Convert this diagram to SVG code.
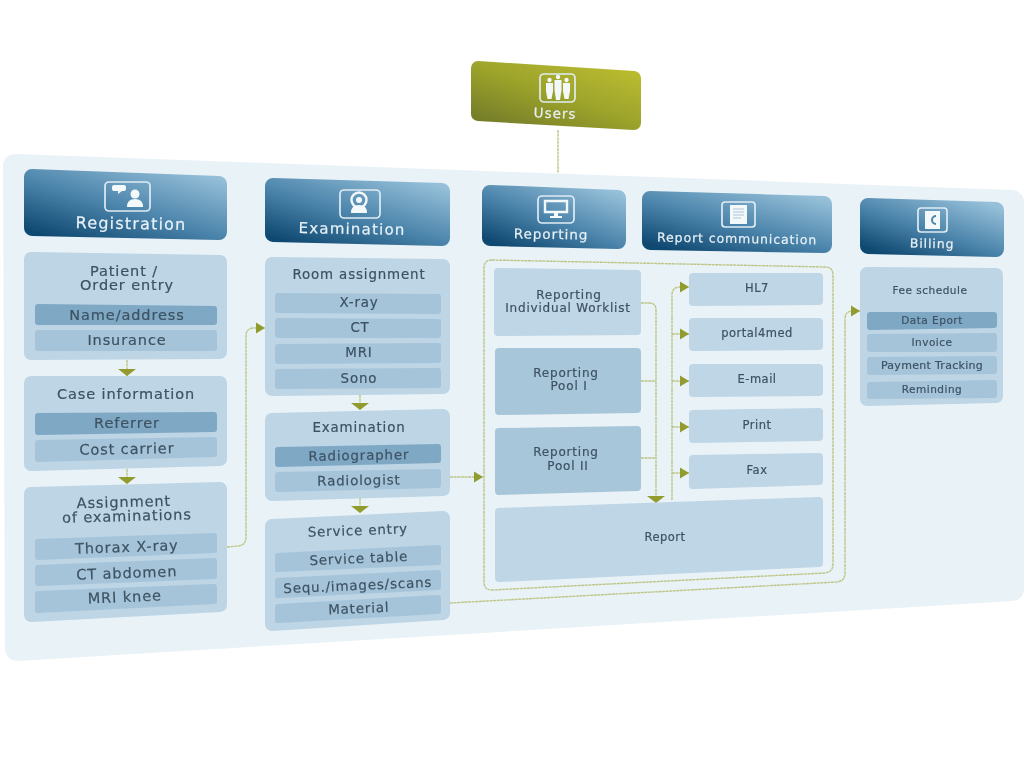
<svg xmlns="http://www.w3.org/2000/svg" width="1024" height="777" viewBox="0 0 1024 777">
<defs>
<linearGradient id="gh" x1="0" y1="1" x2="1" y2="0"><stop offset="0" stop-color="#0f4870"/><stop offset="0.45" stop-color="#4a83aa"/><stop offset="1" stop-color="#96c0d9"/></linearGradient>
<linearGradient id="gu" x1="0" y1="1" x2="1" y2="0"><stop offset="0" stop-color="#727a28"/><stop offset="0.5" stop-color="#9ca32c"/><stop offset="1" stop-color="#bcbd2f"/></linearGradient>
<filter id="soft" x="-2%" y="-2%" width="104%" height="104%"><feGaussianBlur stdDeviation="0.55"/></filter>
<marker id="ar" markerUnits="userSpaceOnUse" markerWidth="10" markerHeight="12" refX="9" refY="6" orient="auto"><path d="M0 0.5L9 6L0 11.500Z" fill="#929c2f"/></marker>
<marker id="ad" markerUnits="userSpaceOnUse" markerWidth="8" markerHeight="20" refX="7" refY="10" orient="auto"><path d="M0 1L7 10L0 19Z" fill="#929c2f"/></marker>
</defs>
<style>
text{font-family:"DejaVu Sans","Liberation Sans",sans-serif;text-anchor:middle;fill:#3d5262;stroke:#3d5262;stroke-width:.2}
polygon{stroke-linejoin:round}
.panel{fill:#e9f2f7;stroke:#e9f2f7;stroke-width:24}
.h{fill:url(#gh);stroke:url(#gh);stroke-width:16}
.u{fill:url(#gu);stroke:url(#gu);stroke-width:14}
.b{fill:#bdd5e5;stroke:#bdd5e5;stroke-width:14}
.i{fill:#a5c4da;stroke:#a5c4da;stroke-width:6}
.d{fill:#7fa8c5;stroke:#7fa8c5;stroke-width:6}
.l{fill:#bfd6e6;stroke:#bfd6e6;stroke-width:8}
.p{fill:#a8c6da;stroke:#a8c6da;stroke-width:8}
.ht{font-size:15px;fill:#e8f1f6;stroke:#e8f1f6;letter-spacing:1.2px}
.htl{font-size:16px;fill:#e8f1f6;stroke:#e8f1f6;letter-spacing:1.200px}
.hs{font-size:13.500px;fill:#e8f1f6;stroke:#e8f1f6;letter-spacing:1px}
.hm{font-size:12.500px;fill:#e8f1f6;stroke:#e8f1f6;letter-spacing:.9px}
.tl{font-size:14.500px;letter-spacing:.9px}
.t{font-size:13.400px;letter-spacing:.85px}
.m{font-size:12px;letter-spacing:.8px}
.c2{font-size:11.500px;letter-spacing:.5px}
.s{font-size:10.500px;letter-spacing:.5px}
.ic{fill:none;stroke:#dfecf3;stroke-width:1.7}
.iw{fill:#f3f8fb}
.c{fill:none;stroke:#bcc584;stroke-width:1.4;stroke-dasharray:3 .6}
.cr{marker-end:url(#ar)}
.cd{marker-end:url(#ad)}
</style>
<g filter="url(#soft)">
<polygon class="panel" points="15,166 1012,202 1012,589 17,649"/>
<g id="connectors">
<path class="c" d="M558 130V173"/>
<path class="c cd" d="M127 360V376"/>
<path class="c cd" d="M127 469V484"/>
<path class="c cr" d="M227 547L238 546Q246 545 246 537V336Q246 328 254 328H265"/>
<path class="c cd" d="M360 395V410"/>
<path class="c cd" d="M360 498V513"/>
<path class="c cr" d="M450 477H483"/>
<path class="c" d="M492 260L825 267Q833 267 833 275V564Q833 572 825 573L492 590Q484 590 484 582V268Q484 260 492 260Z"/>
<path class="c cr" d="M450 603L837 582Q845 581 845 573V319Q845 311 853 311H860"/>
<path class="c cd" d="M641 303H649Q656 303 656 310V503"/>
<path class="c" d="M641 381H656M641 458H656"/>
<path class="c cr" d="M672 500V295Q672 287 680 287H689"/>
<path class="c cr" d="M672 334H689"/>
<path class="c cr" d="M672 381H689"/>
<path class="c cr" d="M672 427H689"/>
<path class="c cr" d="M672 473H689"/>
</g>
<g id="users">
<polygon class="u" points="478,68 634,78 634,123 478,114"/>
<rect class="ic" x="540" y="74" width="35" height="28" rx="4"/>
<path class="iw" d="M546 83h7v8l-1.500 8h-4l-1.500-8zM554.500 80h7v10l-1.500 10h-4l-1.500-10zM563 83h7v8l-1.500 8h-4l-1.500-8z"/>
<circle class="iw" cx="549.500" cy="80" r="2.200"/><circle class="iw" cx="558" cy="77" r="2.200"/><circle class="iw" cx="566.500" cy="80" r="2.200"/>
<text class="hs" x="555" y="118" transform="rotate(2 555 118)">Users</text>
</g>
<g id="registration">
<polygon class="h" points="32,177 219,184 219,232 32,228"/>
<rect class="ic" x="105" y="182" width="45" height="29" rx="4"/>
<path class="iw" d="M112 187q0-2 2-2h10q2 0 2 2v2q0 2-2 2h-2l-4 3v-3h-4q-2 0-2-2z"/><circle class="iw" cx="135" cy="194" r="4.500"/><path class="iw" d="M127 207q0-8 8-8t8 8z"/>
<text class="htl" x="131" y="229" transform="rotate(1 131 229)">Registration</text>
</g>
<g id="patient-order-entry">
<polygon class="b" points="31,259 220,262 220,352 31,353"/>
<text class="tl" x="124" y="276">Patient /</text><text class="tl" x="127" y="290">Order entry</text>
<polygon class="d" points="38,307 214,309 214,322 38,322"/><text class="tl" x="127" y="320">Name/address</text>
<polygon class="i" points="38,333 214,333 214,348 38,348"/><text class="tl" x="127" y="345">Insurance</text>
</g>
<g id="case-information">
<polygon class="b" points="31,383 220,383 220,459 31,464"/>
<text class="tl" x="126" y="399">Case information</text>
<polygon class="d" points="38,416 214,415 214,429 38,432"/><text class="tl" x="127" y="428">Referrer</text>
<polygon class="i" points="38,443 214,440 214,454 38,459"/><text class="tl" x="127" y="454" transform="rotate(-1 127 454)">Cost carrier</text>
</g>
<g id="assignment">
<polygon class="b" points="31,494 220,489 220,605 31,615"/>
<text class="tl" x="124" y="507" transform="rotate(-1.500 124 507)">Assignment</text><text class="tl" x="127" y="521" transform="rotate(-1.500 127 521)">of examinations</text>
<polygon class="i" points="38,542 214,536 214,550 38,557"/><text class="tl" x="127" y="552" transform="rotate(-2 127 552)">Thorax X-ray</text>
<polygon class="i" points="38,568 214,561 214,576 38,583"/><text class="tl" x="127" y="578" transform="rotate(-2 127 578)">CT abdomen</text>
<polygon class="i" points="38,594 214,587 214,601 38,610"/><text class="tl" x="125" y="602" transform="rotate(-2.500 125 602)">MRI knee</text>
</g>
<g id="examination-header">
<polygon class="h" points="273,186 442,191 442,238 273,234"/>
<rect class="ic" x="340" y="190" width="40" height="28" rx="4"/>
<circle cx="359" cy="200" r="7.500" fill="none" stroke="#f3f8fb" stroke-width="2.400"/><circle class="iw" cx="359" cy="200" r="3"/><path class="iw" d="M351 213q0-8 8-8t8 8z"/>
<text class="ht" x="352" y="234" transform="rotate(1 352 234)">Examination</text>
</g>
<g id="room-assignment">
<polygon class="b" points="272,264 443,266 443,387 272,389"/>
<text class="t" x="359" y="279">Room assignment</text>
<polygon class="i" points="278,296 438,297 438,311 278,310"/><text class="t" x="359" y="307">X-ray</text>
<polygon class="i" points="278,321 438,322 438,335 278,335"/><text class="t" x="360" y="332">CT</text>
<polygon class="i" points="278,347 438,346 438,360 278,361"/><text class="t" x="359" y="357">MRI</text>
<polygon class="i" points="278,372 438,371 438,385 278,386"/><text class="t" x="359" y="383">Sono</text>
</g>
<g id="examination">
<polygon class="b" points="272,420 443,416 443,489 272,494"/>
<text class="t" x="359" y="432">Examination</text>
<polygon class="d" points="278,450 438,447 438,460 278,464"/><text class="t" x="359" y="460" transform="rotate(-1 359 460)">Radiographer</text>
<polygon class="i" points="278,475 438,472 438,485 278,489"/><text class="t" x="359" y="485" transform="rotate(-1 359 485)">Radiologist</text>
</g>
<g id="service-entry">
<polygon class="b" points="272,526 443,518 443,613 272,624"/>
<text class="t" x="358" y="535" transform="rotate(-2 358 535)">Service entry</text>
<polygon class="i" points="278,556 438,548 438,562 278,569"/><text class="t" x="359" y="563" transform="rotate(-2.500 359 563)">Service table</text>
<polygon class="i" points="278,581 438,573 438,587 278,595"/><text class="t" x="358" y="590" transform="rotate(-2.500 358 590)">Sequ./images/scans</text>
<polygon class="i" points="278,607 438,598 438,611 278,620"/><text class="t" x="359" y="613" transform="rotate(-2.500 359 613)">Material</text>
</g>
<g id="reporting-header">
<polygon class="h" points="490,193 618,198 618,241 490,238"/>
<rect class="ic" x="538" y="196" width="36" height="27" rx="4"/>
<path fill="none" stroke="#f3f8fb" stroke-width="2.400" d="M545 201h22v11h-22z"/><path class="iw" d="M554 213h4v3h4v2h-12v-2h4z"/>
<text class="hs" x="551" y="239" transform="rotate(1 551 239)">Reporting</text>
</g>
<g id="report-communication-header">
<polygon class="h" points="650,199 824,204 824,245 650,242"/>
<rect class="ic" x="722" y="202" width="33" height="25" rx="3"/>
<path class="iw" d="M730 205h17v19h-17z"/><path d="M733 209h11M733 212h11M733 215h11M733 218h8" stroke="#a9c6d9" stroke-width="1"/>
<text class="hm" x="737" y="243" transform="rotate(1 737 243)">Report communication</text>
</g>
<g id="billing-header">
<polygon class="h" points="868,206 996,210 996,249 868,246"/>
<rect class="ic" x="918" y="208" width="29" height="24" rx="3"/>
<path class="iw" d="M925 211h15v18h-15z"/><path d="M936 216a4 4 0 1 0 0 8" fill="none" stroke="#4f85ab" stroke-width="2"/>
<text class="hm" x="932" y="248" transform="rotate(1 932 248)">Billing</text>
</g>
<g id="worklist">
<polygon class="l" points="498,272 637,274 637,331 498,332"/>
<text class="m" x="569" y="299">Reporting</text><text class="m" x="568" y="312">Individual Worklist</text>
</g>
<g id="pool-1">
<polygon class="p" points="499,352 637,352 637,409 499,411"/>
<text class="m" x="566" y="377">Reporting</text><text class="m" x="569" y="390">Pool I</text>
</g>
<g id="pool-2">
<polygon class="p" points="499,432 637,430 637,487 499,491"/>
<text class="m" x="566" y="456">Reporting</text><text class="m" x="568" y="470">Pool II</text>
</g>
<g id="report">
<polygon class="l" points="499,512 819,501 819,563 499,578"/>
<text class="c2" x="665" y="541">Report</text>
</g>
<g id="hl7"><polygon class="l" points="693,277 819,277 819,301 693,302"/><text class="c2" x="757" y="292">HL7</text></g>
<g id="portal4med"><polygon class="l" points="693,322 819,322 819,346 693,347"/><text class="c2" x="757" y="337">portal4med</text></g>
<g id="email"><polygon class="l" points="693,368 819,368 819,392 693,393"/><text class="c2" x="757" y="383">E-mail</text></g>
<g id="print"><polygon class="l" points="693,414 819,412 819,437 693,439"/><text class="c2" x="757" y="429">Print</text></g>
<g id="fax"><polygon class="l" points="693,459 819,457 819,481 693,485"/><text class="c2" x="757" y="474">Fax</text></g>
<g id="fee-schedule">
<polygon class="b" points="867,274 996,275 996,396 867,399"/>
<text class="s" x="930" y="294">Fee schedule</text>
<polygon class="d" points="870,315 994,315 994,325 870,327"/><text class="s" x="932" y="324">Data Eport</text>
<polygon class="i" points="870,337 994,336 994,349 870,349"/><text class="s" x="932" y="346">Invoice</text>
<polygon class="i" points="870,360 994,359 994,371 870,372"/><text class="s" x="932" y="369" style="font-size:11px;letter-spacing:.3px">Payment Tracking</text>
<polygon class="i" points="870,385 994,383 994,395 870,396"/><text class="s" x="932" y="393">Reminding</text>
</g>
</g>
</svg>
